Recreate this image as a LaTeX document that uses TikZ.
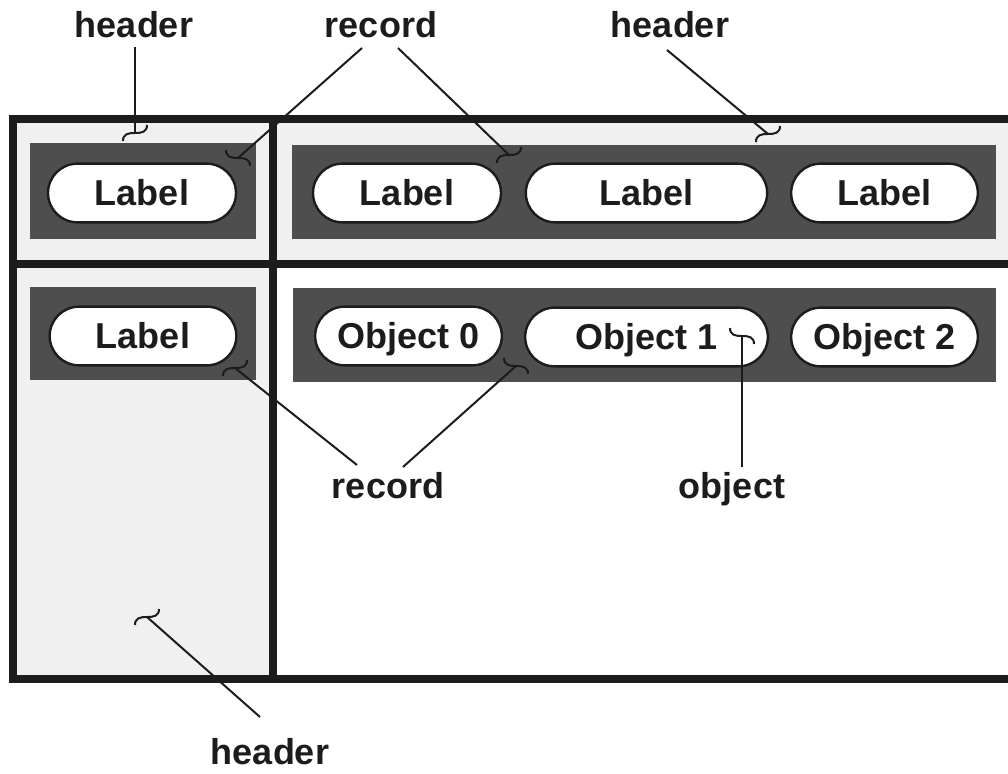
\documentclass[tikz,border=0pt]{standalone}
\usepackage{fontspec}
\setmainfont{Liberation Sans}
\definecolor{recGray}{RGB}{78,78,78}
\definecolor{hdrGray}{RGB}{240,240,240}
\definecolor{frameDark}{RGB}{28,28,28}
\usetikzlibrary{shapes.misc,calc}

\begin{document}
\begin{tikzpicture}[x=0.75pt, y=-0.75pt,
    frame/.style={frameDark, line width=6pt},
    record/.style={fill=recGray},
    pill/.style={rounded rectangle, draw=frameDark, line width=1.8pt, fill=white,
      minimum height=44pt, inner sep=0pt, text height=19.3pt, text depth=0pt,
      text=frameDark, font=\fontsize{27}{32}\selectfont\bfseries},
    tag/.style={font=\fontsize{27}{32}\selectfont\bfseries, inner sep=0pt,
      text=frameDark, anchor=base},
    lead/.style={frameDark, line width=1.5pt},
    squig/.pic={\draw[lead] (-12,8) .. controls (-12,1) and (-7,0) .. (0,0)
      .. controls (7,0) and (12,-1) .. (12,-8);}
  ]
  \useasboundingbox (0,0) rectangle (1008,774);
  % shaded header cells
  \fill[hdrGray] (13,119) rectangle (273,679);
  \fill[hdrGray] (273,119) rectangle (1008,264);
  \draw[frame] (1008,119) -- (13,119) -- (13,679) -- (1008,679);
  \draw[frame] (273,119) -- (273,679);
  \draw[frame] (13,264) -- (1008,264);
  % records
  \fill[record] (30,143) rectangle (256,239);
  \fill[record] (292,145) rectangle (996,239);
  \fill[record] (30,287) rectangle (256,380);
  \fill[record] (293,288) rectangle (996,382);
  \foreach \nm/\x/\y/\w/\txt in {lblA/142/193/141pt/Label, lblB/407/193/141pt/Label,
      lblC/646.5/193/181pt/Label, lblD/884.5/193/140pt/Label, lblE/143/336/140pt/Label,
      objA/408.5/336/140pt/Object 0, objB/646.5/337/182pt/Object 1,
      objC/884.5/337/140pt/Object 2} {
    \node[pill, minimum width=\w] (\nm) at (\x,\y) {\txt};
  }
  % callout texts
  \node[tag] (hdrTop) at (134,38) {header};
  \node[tag] (recTop) at (381,38) {record};
  \node[tag] (hdrRight) at (670,38) {header};
  \node[tag] (recBot) at (388,498) {record};
  \node[tag] (objBot) at (732,498) {object};
  \node[tag] (hdrBot) at (270,764) {header};
  % leader ends
  \coordinate (sA) at (135,47);
  \coordinate (sB) at (362,48);
  \coordinate (sC) at (398,48);
  \coordinate (sD) at (667,50);
  \coordinate (sE) at (357,465);
  \coordinate (sF) at (403,467);
  \coordinate (sG) at (742,467);
  \coordinate (sH) at (260,717);
  \coordinate (hA) at (135,133);
  \coordinate (hB) at (238,158);
  \coordinate (hC) at (509,155);
  \coordinate (hD) at (768,134);
  \coordinate (hE) at (235,368);
  \coordinate (hF) at (516,366);
  \coordinate (hG) at (742,336);
  \coordinate (hH) at (147,617);
  \foreach \a/\b in {sA/hA, sB/hB, sC/hC, sD/hD, sE/hE, sF/hF, sG/hG, sH/hH}
    \draw[lead] (\a) -- (\b);
  \foreach \h in {hA, hC, hD, hE, hH}
    \pic at (\h) {squig};
  \foreach \h in {hB, hF, hG}
    \pic[yscale=-1] at (\h) {squig};
\end{tikzpicture}
\end{document}
